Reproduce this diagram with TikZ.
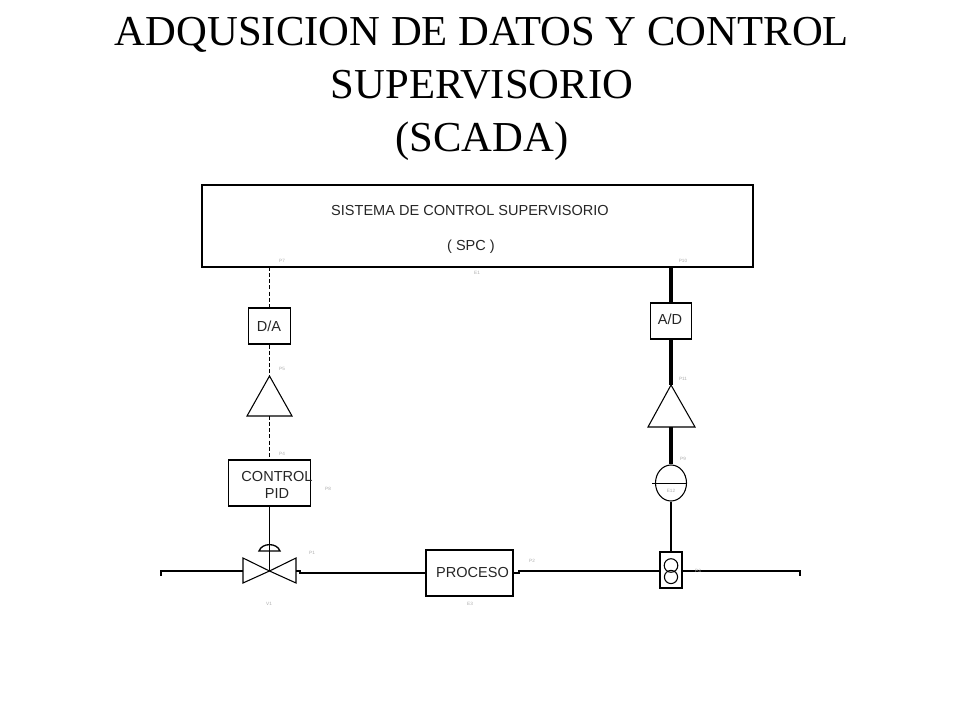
\documentclass[tikz,border=0pt]{standalone}
\usepackage{fontspec}
\usetikzlibrary{shapes.geometric}
\setmainfont{Liberation Serif}
\newfontfamily\arialf{Liberation Sans}
\definecolor{lblgray}{gray}{0.68}
\tikzset{
  px/.style={x=0.75pt,y=-0.75pt},
  boxn/.style={draw=black,line width=0.8pt,inner sep=0pt,fill=none},
  lbl/.style={font=\arialf\fontsize{10.9}{14}\selectfont,text=black!85,inner sep=0pt},
  tiny/.style={font=\arialf\fontsize{3.5}{3.5}\selectfont,text=lblgray,inner sep=0pt},
  sym/.style={draw=black,line width=0.8pt},
  pipe/.style={draw=black,line width=0.95pt},
  sigdash/.style={draw=black,line width=1pt,dash pattern=on 3pt off 1.6pt},
  sigthick/.style={draw=black,line width=2.4pt},
}
\begin{document}
\begin{tikzpicture}[px]
\useasboundingbox (0,0) rectangle (960,720);
\fill[white] (0,0) rectangle (960,720);
% title
\node[font=\fontsize{32}{39.6}\selectfont,align=center,inner sep=0pt] (title) at (482,89)
  {ADQUSICION DE DATOS Y CONTROL\\SUPERVISORIO\\(SCADA)};
% boxes
\node[boxn,minimum width=551*0.75pt,minimum height=82*0.75pt] (spc) at (477.5,226) {};
\node[lbl] (t1) at (470,210.5) {SISTEMA DE CONTROL SUPERVISORIO};
\node[lbl] (t2) at (471,246.5) {( SPC )};
\node[boxn,minimum width=42*0.75pt,minimum height=36*0.75pt] (da) at (269.5,326) {};
\node[lbl] (dat) at (269,326) {D/A};
\node[boxn,minimum width=41*0.75pt,minimum height=36*0.75pt] (ad) at (671,321) {};
\node[lbl] (adt) at (670,319) {A/D};
\node[boxn,minimum width=82*0.75pt,minimum height=46*0.75pt] (pid) at (269.5,483) {};
\node[lbl] (pid1) at (277,476) {CONTROL};
\node[lbl] (pid2) at (277,493) {PID};
\node[boxn,minimum width=87*0.75pt,minimum height=46*0.75pt] (proc) at (469.5,573) {};
\node[lbl] (proct) at (472.5,572) {PROCESO};
\node[boxn,minimum width=22*0.75pt,minimum height=36*0.75pt] (ft) at (671,570) {};
% amplifier triangles
\coordinate (ampLtop) at (269.5,376);
\coordinate (ampLbot) at (269.5,416);
\draw[sym,line join=miter] (ampLtop) -- (292,416) -- (247,416) -- cycle;
\coordinate (ampRtop) at (671,385);
\coordinate (ampRbot) at (671,427);
\draw[sym,line join=miter] (ampRtop) -- (695,427) -- (648,427) -- cycle;
% transducer ellipse
\node[draw=black,line width=0.8pt,ellipse,minimum width=31*0.75pt,minimum height=36*0.75pt,inner sep=0pt] (tr) at (671,483) {};
\coordinate (trL) at (652,483.5);
\coordinate (trR) at (687,483.5);
\draw[sym] (trL) -- (trR);
% flow sensor circles
\draw[sym] (671,565.5) circle (6.8);
\draw[sym] (671,577) circle (6.6);
% valve
\coordinate (vc) at (269.5,571);
\coordinate (vl) at (243,571);
\coordinate (vr) at (296,571);
\draw[sym] (vc) -- (243,558) -- (243,583) -- cycle;
\draw[sym] (vc) -- (296,558) -- (296,583) -- cycle;
\coordinate (domeb) at (269.5,551);
\draw[sym,line width=1pt] (259,551) .. controls (262,542.5) and (277,542.5) .. (280,551) -- cycle;
% signal lines
\coordinate (spcL) at (269.5,267);
\coordinate (spcR) at (671,267);
\draw[sigdash] (spcL) -- (da.north);
\draw[sigdash] (da.south) -- (ampLtop);
\draw[sigdash] (ampLbot) -- (pid.north);
\draw[sym,line width=1pt] (pid.south) -- (domeb);
\draw[sym] (domeb) -- (vc);
\draw[sigthick] (spcR) -- (ad.north);
\draw[sigthick] (ad.south) -- (ampRtop);
\draw[sigthick] (ampRbot) -- (tr.north);
\draw[sym] (tr.south) -- (ft.north);
% pipes
\coordinate (pl) at (161,576);
\coordinate (pr) at (800,576);
\coordinate (procW) at (426,573);
\coordinate (procE) at (513,573);
\coordinate (ftW) at (660,571);
\coordinate (ftE) at (682,571);
\draw[pipe] (pl) -- (161,571) -- (vl);
\draw[pipe] (vr) -- (300,571) -- (300,573) -- (procW);
\draw[pipe] (procE) -- (519,573) -- (519,571) -- (ftW);
\draw[pipe] (ftE) -- (800,571) -- (pr);
% tiny grey tags
\node[tiny] (a1) at (282,261) {P7};
\node[tiny] (a2) at (477,273) {E1};
\node[tiny] (a3) at (683,261) {P10};
\node[tiny] (a4) at (282,369) {P5};
\node[tiny] (a5) at (282,454) {P4};
\node[tiny] (a6) at (328,489) {P8};
\node[tiny] (a7) at (312,553) {P1};
\node[tiny] (a8) at (269,604) {V1};
\node[tiny] (a9) at (470,604) {E3};
\node[tiny] (a10) at (532,561) {P2};
\node[tiny] (a11) at (698,571) {P3};
\node[tiny] (a12) at (671,491) {E12};
\node[tiny] (a13) at (683,459) {P9};
\node[tiny] (a14) at (683,379) {P11};
\end{tikzpicture}
\end{document}
